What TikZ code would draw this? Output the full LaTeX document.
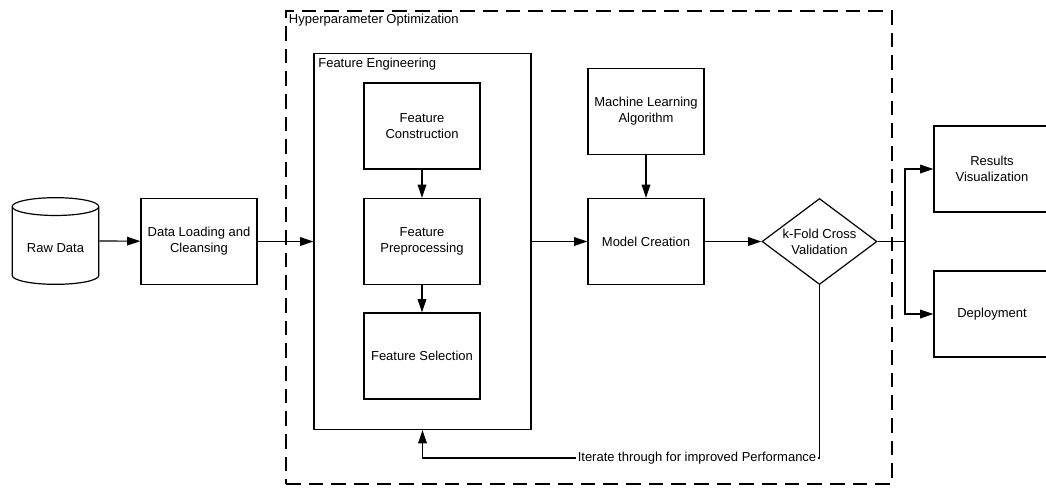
\documentclass[tikz,border=0pt]{standalone}
\usepackage{fontspec}
\setmainfont{Liberation Sans}
\usetikzlibrary{arrows.meta,shapes.geometric}

\begin{document}
\begin{tikzpicture}[x=0.75pt,y=-0.75pt,
            every node/.style={font=\fontsize{9.75pt}{12pt}\selectfont,align=center},
            box/.style={draw,line width=0.9pt,minimum width=87pt,minimum height=64.5pt,inner sep=2pt},
            arr/.style={-{Triangle[length=10pt,width=6.5pt]},line width=0.9pt},
            dashbox/.style={draw,line width=1pt,dash pattern=on 11pt off 6pt},
            title/.style={anchor=north west,inner sep=2.5pt}]
            \useasboundingbox (0,0) rectangle (1046,487);
            \node[dashbox,minimum width=454.5pt,minimum height=354.75pt] (hpo) at (589,247.5) {};
            \node[title] at (hpo.north west) {Hyperparameter Optimization};
            \node[draw,line width=0.9pt,minimum width=162.75pt,minimum height=282pt] (fe) at (422.5,241.5) {};
            \node[title,inner sep=3.5pt] at (fe.north west) {Feature Engineering};
            \node[cylinder,shape border rotate=90,aspect=0.27,draw,line width=0.9pt,minimum width=65pt,minimum height=65pt,anchor=shape center] (raw) at (55.5,241) {Raw Data};
            \node[box] (data) at (199,241.5) {Data Loading and\\Cleansing};
            \node[box] (fc) at (422,126) {Feature\\Construction};
            \node[box] (fp) at (422,241.5) {Feature\\Preprocessing};
            \node[box] (fs) at (422,356) {Feature Selection};
            \node[box] (ml) at (646,111.5) {Machine Learning\\Algorithm};
            \node[box] (model) at (646,241.5) {Model Creation};
            \node[diamond,draw,line width=0.9pt,aspect=1.34,inner sep=0pt,minimum width=86.25pt,minimum height=64.5pt] (cv) at (819.5,241.5) {k-Fold Cross\\Validation};
            \node[box] (res) at (992,169) {Results\\Visualization};
            \node[box] (dep) at (992,314) {Deployment};
            \coordinate (split) at (905,241.5);
            \coordinate (back) at (0,458);
            \draw[arr] (raw.shape center -| raw.east) -- (data);
            \draw[arr] (data) -- (fe);
            \draw[arr] (fc) -- (fp);
            \draw[arr] (fp) -- (fs);
            \draw[arr] (fe) -- (model);
            \draw[arr] (ml) -- (model);
            \draw[arr] (model) -- (cv);
            \draw[arr] (cv) -- (split) |- (res);
            \draw[arr] (split) |- (dep);
            \draw[arr] (cv) -- (cv |- back) -- node[at start,anchor=east,fill=white,inner sep=1pt,xshift=-1pt] {Iterate through for improved Performance} (fe |- back) -- (fe);
        \end{tikzpicture}
\end{document}
